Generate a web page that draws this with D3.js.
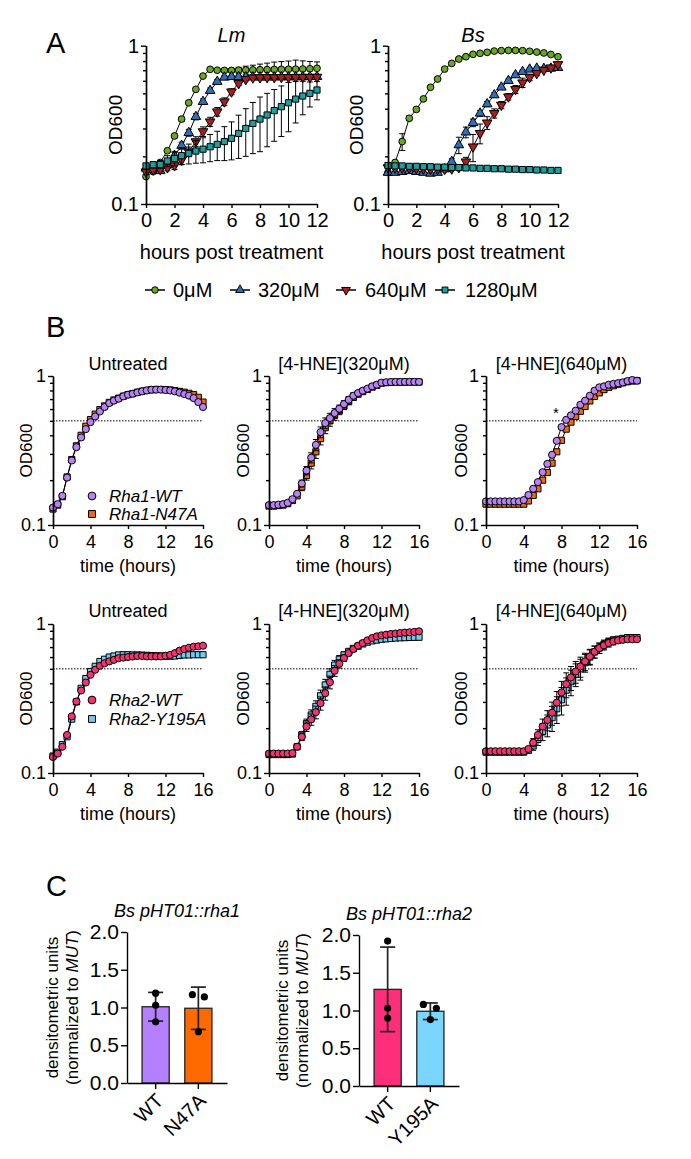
<!DOCTYPE html>
<html lang="en">
<head>
<meta charset="UTF-8">
<title>4-HNE growth curves</title>
<script src="https://d3js.org/d3.v7.min.js"></script>
<style>
  body { margin: 0; background: #fff; }
  svg text { font-family: "Liberation Sans", Arial, sans-serif; fill: #000; }
  .axis path, .axis line { stroke: #000; stroke-width: 1.4; }
</style>
</head>
<body>
<div id="chart"></div>
<script>
// ---------- panel A data (OD600, mean and SD) ----------
var hoursA = [0,0.5,1,1.5,2,2.5,3,3.5,4,4.5,5,5.5,6,6.5,7,7.5,8,8.5,9,9.5,10,10.5,11,11.5,12];
var doses = ["0μM", "320μM", "640μM", "1280μM"];

var lm0      = [0.149,0.160,0.183,0.217,0.269,0.344,0.436,0.530,0.643,0.709,0.700,0.698,0.698,0.700,0.702,0.703,0.705,0.706,0.708,0.709,0.710,0.711,0.712,0.715,0.720];
var lm0Err   = [0.004,0.004,0.005,0.006,0.008,0.010,0.012,0.014,0.014,0.012,0.012,0.015,0.020,0.030,0.040,0.050,0.060,0.070,0.080,0.085,0.090,0.100,0.090,0.080,0.070];
var lm320    = [0.168,0.164,0.162,0.176,0.202,0.234,0.282,0.356,0.443,0.520,0.593,0.631,0.637,0.636,0.634,0.633,0.632,0.632,0.633,0.634,0.634,0.635,0.635,0.636,0.637];
var lm320Err = [0.004,0.004,0.005,0.008,0.010,0.012,0.014,0.016,0.018,0.020,0.020,0.015,0.012,0.010,0.010,0.010,0.010,0.010,0.010,0.010,0.010,0.010,0.010,0.010,0.010];
var lm640    = [0.160,0.165,0.165,0.170,0.175,0.190,0.214,0.248,0.287,0.331,0.383,0.443,0.512,0.578,0.613,0.628,0.630,0.631,0.631,0.632,0.632,0.632,0.633,0.633,0.634];
var lm640Err = [0.004,0.004,0.005,0.008,0.010,0.012,0.015,0.018,0.020,0.022,0.024,0.025,0.022,0.018,0.014,0.012,0.010,0.010,0.010,0.010,0.010,0.010,0.010,0.010,0.010];
var lm1280   = [0.174,0.177,0.178,0.187,0.194,0.202,0.209,0.216,0.222,0.230,0.238,0.248,0.260,0.279,0.300,0.323,0.344,0.365,0.389,0.412,0.436,0.460,0.481,0.500,0.525];
var lm1280Err= [0.005,0.008,0.010,0.015,0.020,0.025,0.030,0.035,0.040,0.045,0.050,0.060,0.070,0.085,0.100,0.115,0.130,0.135,0.140,0.145,0.150,0.135,0.115,0.090,0.070];

var bs0      = [0.158,0.183,0.248,0.348,0.396,0.461,0.546,0.616,0.712,0.773,0.824,0.852,0.882,0.895,0.908,0.925,0.930,0.934,0.934,0.930,0.922,0.912,0.900,0.880,0.852];
var bs0Err   = [0.004,0.006,0.030,0.012,0.010,0.010,0.010,0.010,0.010,0.010,0.010,0.010,0.008,0.008,0.008,0.008,0.008,0.008,0.008,0.008,0.008,0.008,0.008,0.008,0.008];
var bs320    = [0.158,0.158,0.160,0.162,0.160,0.158,0.156,0.158,0.166,0.185,0.236,0.284,0.326,0.374,0.428,0.488,0.546,0.601,0.653,0.685,0.709,0.719,0.716,0.719,0.726];
var bs320Err = [0.003,0.003,0.003,0.004,0.004,0.004,0.004,0.004,0.005,0.008,0.028,0.022,0.018,0.016,0.016,0.016,0.016,0.016,0.016,0.016,0.015,0.015,0.015,0.015,0.015];
var bs640    = [0.170,0.169,0.169,0.169,0.168,0.167,0.166,0.166,0.166,0.167,0.170,0.185,0.230,0.280,0.326,0.374,0.422,0.476,0.530,0.584,0.631,0.669,0.702,0.726,0.762];
var bs640Err = [0.003,0.003,0.003,0.003,0.003,0.003,0.003,0.003,0.003,0.004,0.006,0.012,0.045,0.040,0.030,0.025,0.022,0.022,0.030,0.040,0.030,0.022,0.018,0.016,0.015];
var bs1280   = [0.175,0.174,0.174,0.173,0.173,0.172,0.172,0.171,0.171,0.170,0.170,0.169,0.169,0.168,0.168,0.167,0.167,0.166,0.166,0.165,0.165,0.164,0.164,0.163,0.163];

// ---------- panel B data ----------
var hoursB = [0,0.5,1,1.5,2,2.5,3,3.5,4,4.5,5,5.5,6,6.5,7,7.5,8,8.5,9,9.5,10,10.5,11,11.5,12,12.5,13,13.5,14,14.5,15,15.5,16];
var treatments = ["Untreated", "[4-HNE](320μM)", "[4-HNE](640μM)"];

var r1UntWT   = [0.131,0.138,0.157,0.208,0.271,0.333,0.387,0.440,0.490,0.535,0.578,0.619,0.658,0.683,0.704,0.730,0.749,0.760,0.776,0.789,0.800,0.809,0.810,0.810,0.805,0.800,0.789,0.773,0.757,0.738,0.711,0.668,0.619];
var r1UntMut  = [0.128,0.136,0.155,0.210,0.275,0.340,0.400,0.460,0.510,0.555,0.595,0.630,0.665,0.690,0.710,0.732,0.750,0.762,0.778,0.790,0.800,0.808,0.812,0.812,0.810,0.806,0.798,0.788,0.778,0.765,0.749,0.719,0.668];
var r1_320WT  = [0.136,0.136,0.137,0.138,0.141,0.149,0.162,0.190,0.232,0.283,0.345,0.420,0.483,0.522,0.564,0.603,0.648,0.693,0.737,0.769,0.797,0.822,0.852,0.874,0.902,0.908,0.911,0.912,0.912,0.913,0.913,0.913,0.913];
var r1_320Mut = [0.134,0.134,0.135,0.136,0.139,0.146,0.157,0.180,0.215,0.260,0.310,0.380,0.450,0.500,0.545,0.585,0.630,0.675,0.720,0.755,0.785,0.812,0.842,0.866,0.895,0.903,0.907,0.909,0.910,0.910,0.911,0.911,0.911];
var r1_320Err = [0.002,0.002,0.002,0.002,0.003,0.004,0.006,0.010,0.015,0.022,0.030,0.035,0.040,0.040,0.040,0.035,0.035,0.035,0.035,0.030,0.025,0.020,0.015,0.012,0.010,0.010,0.010,0.010,0.010,0.010,0.010,0.010,0.010];
var r1_640WT  = [0.144,0.144,0.144,0.144,0.144,0.144,0.144,0.144,0.147,0.159,0.175,0.194,0.226,0.257,0.296,0.367,0.454,0.508,0.544,0.585,0.641,0.683,0.737,0.797,0.839,0.852,0.874,0.885,0.895,0.906,0.925,0.940,0.930];
var r1_640Mut = [0.138,0.138,0.138,0.138,0.138,0.138,0.138,0.138,0.138,0.145,0.158,0.175,0.200,0.225,0.260,0.310,0.370,0.440,0.490,0.535,0.580,0.625,0.680,0.730,0.770,0.810,0.840,0.860,0.880,0.900,0.915,0.925,0.930];

var r2UntWT   = [0.128,0.135,0.150,0.180,0.240,0.302,0.358,0.405,0.456,0.493,0.524,0.545,0.561,0.575,0.590,0.595,0.600,0.605,0.610,0.610,0.606,0.606,0.606,0.606,0.612,0.620,0.638,0.662,0.679,0.693,0.704,0.708,0.715];
var r2UntMut  = [0.130,0.138,0.155,0.175,0.230,0.300,0.370,0.430,0.480,0.520,0.560,0.580,0.600,0.610,0.620,0.622,0.622,0.620,0.620,0.618,0.616,0.614,0.612,0.610,0.608,0.608,0.610,0.615,0.620,0.620,0.622,0.622,0.622];
var r2_320WT  = [0.135,0.135,0.135,0.135,0.135,0.136,0.150,0.175,0.205,0.229,0.256,0.294,0.343,0.407,0.485,0.541,0.591,0.638,0.679,0.715,0.745,0.776,0.805,0.826,0.839,0.848,0.857,0.862,0.870,0.875,0.880,0.885,0.893];
var r2_320Mut = [0.133,0.133,0.133,0.133,0.133,0.134,0.150,0.180,0.215,0.245,0.280,0.330,0.390,0.460,0.530,0.580,0.620,0.655,0.685,0.710,0.735,0.755,0.770,0.780,0.790,0.795,0.800,0.805,0.808,0.810,0.812,0.814,0.815];
var r2_320Err = [0.002,0.002,0.002,0.002,0.002,0.003,0.006,0.010,0.015,0.020,0.025,0.030,0.035,0.040,0.040,0.035,0.030,0.025,0.020,0.015,0.012,0.010,0.010,0.010,0.010,0.010,0.010,0.010,0.010,0.010,0.010,0.010,0.010];
var r2_640WT  = [0.140,0.140,0.140,0.140,0.140,0.140,0.140,0.140,0.140,0.145,0.160,0.180,0.205,0.227,0.254,0.297,0.347,0.395,0.438,0.480,0.519,0.561,0.606,0.651,0.689,0.719,0.745,0.764,0.776,0.783,0.790,0.790,0.790];
var r2_640Mut = [0.138,0.138,0.138,0.138,0.138,0.138,0.138,0.138,0.138,0.142,0.152,0.168,0.190,0.210,0.235,0.270,0.310,0.360,0.410,0.460,0.500,0.550,0.600,0.650,0.690,0.730,0.760,0.780,0.790,0.800,0.810,0.810,0.810];
var r2_640Err = [0.003,0.003,0.003,0.003,0.003,0.003,0.003,0.003,0.003,0.005,0.010,0.015,0.025,0.035,0.045,0.055,0.065,0.075,0.080,0.080,0.080,0.075,0.070,0.060,0.055,0.050,0.045,0.040,0.035,0.030,0.030,0.025,0.025];

// ---------- panel C data ----------
var rha1Groups = ["WT", "N47A"];
var rha1Means  = [1.01, 0.99];
var rha1SD     = [0.19, 0.28];
var rha1Points = [[1.19, 1.03, 0.81], [1.17, 1.14, 0.68]];
var rha2Groups = ["WT", "Y195A"];
var rha2Means  = [1.28, 0.99];
var rha2SD     = [0.56, 0.11];
var rha2Points = [[1.92, 1.03, 0.90], [1.08, 1.03, 0.88]];
var barTicks   = [0, 0.5, 1, 1.5, 2];

// ---------- drawing ----------
var svg = d3.select("#chart").append("svg")
    .attr("width", 691).attr("height", 1159);

var cGreen = "#6BA820", cBlue = "#2E6FB8", cRed = "#A81E1E", cTeal = "#1E9E9E";
var cPurple = "#B583F2", cOrange = "#F06A12", cPink = "#F2336E", cSky = "#72CBEE";
var minorLog = [0.2, 0.3, 0.4, 0.5, 0.6, 0.7, 0.8, 0.9];

function growthPlot(p) {
    var x = d3.scaleLinear().domain([0, p.xMax]).range([p.left, p.right]);
    var y = d3.scaleLog().domain([0.1, 1]).range([p.bottom, p.top]);
    var g = svg.append("g");

    if (p.dotted) {
        g.append("line")
            .attr("x1", p.left).attr("x2", p.right)
            .attr("y1", y(0.5)).attr("y2", y(0.5))
            .attr("stroke", "#000").attr("stroke-width", 1)
            .attr("stroke-dasharray", "1.5,1.5");
    }

    p.series.forEach(function(s) {
        var pts = s.values.map(function(v, i) {
            return {t: p.hours[i], v: v, e: s.err ? s.err[i] : 0};
        });
        g.append("path").datum(pts)
            .attr("fill", "none").attr("stroke", "#000").attr("stroke-width", 1)
            .attr("d", d3.line().x(function(d) { return x(d.t); }).y(function(d) { return y(d.v); }));
        var eb = g.append("g").attr("stroke", "#000").attr("stroke-width", 1);
        pts.filter(function(d) { return d.e > 0.006; }).forEach(function(d) {
            var cx = x(d.t), lo = y(Math.max(d.v - d.e, 0.101)), hi = y(d.v + d.e);
            eb.append("line").attr("x1", cx).attr("x2", cx).attr("y1", lo).attr("y2", hi);
            eb.append("line").attr("x1", cx - 3).attr("x2", cx + 3).attr("y1", lo).attr("y2", lo);
            eb.append("line").attr("x1", cx - 3).attr("x2", cx + 3).attr("y1", hi).attr("y2", hi);
        });
        g.append("g").selectAll("path").data(pts).enter().append("path")
            .attr("transform", function(d) {
                return "translate(" + x(d.t) + "," + y(d.v) + ")" + (s.flip ? " rotate(180)" : "");
            })
            .attr("d", d3.symbol().type(s.shape).size(s.size))
            .attr("fill", s.color).attr("stroke", "#000").attr("stroke-width", 1);
    });

    // axes
    g.append("g").attr("class", "axis")
        .attr("transform", "translate(" + p.left + ",0)")
        .call(d3.axisLeft(y).tickValues(minorLog).tickSize(3).tickSizeOuter(0).tickFormat(""));
    g.append("g").attr("class", "axis")
        .attr("transform", "translate(" + p.left + ",0)")
        .call(d3.axisLeft(y).tickValues([0.1, 1]).tickSize(5).tickSizeOuter(0).tickPadding(2)
            .tickFormat(d3.format("~g")))
        .attr("font-size", p.font);
    g.append("g").attr("class", "axis")
        .attr("transform", "translate(0," + p.bottom + ")")
        .call(d3.axisBottom(x).tickValues(p.xTicks).tickSize(4).tickSizeOuter(0).tickPadding(p.xPad))
        .attr("font-size", p.font);

    g.append("text")
        .attr("transform", "translate(" + p.yLabelX + "," + ((p.top + p.bottom) / 2) + ") rotate(-90)")
        .attr("text-anchor", "middle").attr("dy", "0.35em")
        .attr("font-size", p.yLabelSize).text("OD600");
    g.append("text")
        .attr("x", (p.left + p.right) / 2).attr("y", p.xTitleY)
        .attr("text-anchor", "middle").attr("font-size", p.font).text(p.xTitle);
    g.append("text")
        .attr("x", (p.left + p.right) / 2).attr("y", p.titleY)
        .attr("text-anchor", "middle").attr("font-size", p.font)
        .attr("font-style", p.italicTitle ? "italic" : "normal").text(p.title);
    return {x: x, y: y, g: g};
}

// panel A
function seriesA(v0, e0, v1, e1, v2, e2, v3, e3) {
    return [
        {values: v0, err: e0, color: cGreen, shape: d3.symbolCircle, size: 36},
        {values: v1, err: e1, color: cBlue, shape: d3.symbolTriangle, size: 40},
        {values: v2, err: e2, color: cRed, shape: d3.symbolTriangle, size: 40, flip: true},
        {values: v3, err: e3, color: cTeal, shape: d3.symbolSquare, size: 38}
    ];
}
var baseA = {xMax: 12, xTicks: [0, 2, 4, 6, 8, 10, 12], hours: hoursA, top: 45.7, bottom: 204,
    font: 20, xPad: 5, yLabelSize: 19, xTitle: "hours post treatment", xTitleY: 259, titleY: 42, italicTitle: true};
growthPlot(Object.assign({}, baseA, {left: 146, right: 317, yLabelX: 115, title: "Lm",
    series: seriesA(lm0, lm0Err, lm320, lm320Err, lm640, lm640Err, lm1280, lm1280Err)}));
growthPlot(Object.assign({}, baseA, {left: 388, right: 558, yLabelX: 356, title: "Bs",
    series: seriesA(bs0, bs0Err, bs320, bs320Err, bs640, bs640Err, bs1280, null)}));

// legend A
var legA = [
    {x: 155, tx: 173, color: cGreen, shape: d3.symbolCircle, flip: false},
    {x: 240, tx: 258, color: cBlue, shape: d3.symbolTriangle, flip: false},
    {x: 346, tx: 365, color: cRed, shape: d3.symbolTriangle, flip: true},
    {x: 445, tx: 465, color: cTeal, shape: d3.symbolSquare, flip: false}
];
legA.forEach(function(l, i) {
    svg.append("line").attr("x1", l.x - 10).attr("x2", l.x + 10).attr("y1", 290).attr("y2", 290)
        .attr("stroke", "#000").attr("stroke-width", 1.5);
    svg.append("path")
        .attr("transform", "translate(" + l.x + ",290)" + (l.flip ? " rotate(180)" : ""))
        .attr("d", d3.symbol().type(l.shape).size(34))
        .attr("fill", l.color).attr("stroke", "#000").attr("stroke-width", 1);
    svg.append("text").attr("x", l.tx).attr("y", 290).attr("dy", "0.35em")
        .attr("font-size", 20).text(doses[i]);
});

// panel B
var colsB = [{left: 53, right: 203, yl: 26}, {left: 269, right: 419, yl: 243}, {left: 486, right: 637, yl: 461}];
var rowsB = [{top: 376, bottom: 525, titleY: 370, xTitleY: 572},
             {top: 624, bottom: 773, titleY: 617, xTitleY: 820}];
var dataB = [
    [[r1UntMut, null, r1UntWT, null], [r1_320Mut, r1_320Err, r1_320WT, r1_320Err], [r1_640Mut, null, r1_640WT, null]],
    [[r2UntMut, null, r2UntWT, null], [r2_320Mut, r2_320Err, r2_320WT, r2_320Err], [r2_640Mut, r2_640Err, r2_640WT, r2_640Err]]
];
var rowColors = [[cOrange, cPurple], [cSky, cPink]];
var plotsB = [];
rowsB.forEach(function(r, ri) {
    colsB.forEach(function(c, ci) {
        var d = dataB[ri][ci];
        plotsB.push(growthPlot({xMax: 16, xTicks: [0, 4, 8, 12, 16], hours: hoursB,
            left: c.left, right: c.right, top: r.top, bottom: r.bottom,
            font: 18, xPad: 6, yLabelSize: 17, yLabelX: c.yl, dotted: true,
            xTitle: "time (hours)", xTitleY: r.xTitleY, titleY: r.titleY, title: treatments[ci],
            series: [
                {values: d[0], err: d[1], color: rowColors[ri][0], shape: d3.symbolSquare, size: 38},
                {values: d[2], err: d[3], color: rowColors[ri][1], shape: d3.symbolCircle, size: 40}
            ]}));
    });
});

// asterisk, 640 µM Rha1
svg.append("text").attr("x", plotsB[2].x(7.4)).attr("y", plotsB[2].y(0.5) - 3)
    .attr("text-anchor", "middle").attr("font-size", 15).text("*");

// panel B legends
var legB = [
    {y: [496, 514], labels: ["Rha1-WT", "Rha1-N47A"], colors: [cPurple, cOrange]},
    {y: [700, 719], labels: ["Rha2-WT", "Rha2-Y195A"], colors: [cPink, cSky]}
];
legB.forEach(function(l) {
    [d3.symbolCircle, d3.symbolSquare].forEach(function(shape, i) {
        svg.append("path").attr("transform", "translate(92," + l.y[i] + ")")
            .attr("d", d3.symbol().type(shape).size(48))
            .attr("fill", l.colors[i]).attr("stroke", "#000").attr("stroke-width", 1);
        svg.append("text").attr("x", 109).attr("y", l.y[i]).attr("dy", "0.35em")
            .attr("font-size", 17).attr("font-style", "italic").text(l.labels[i]);
    });
});

// panel C
function barPlot(p) {
    var x = d3.scaleBand().domain(p.groups).range([p.left, p.right])
        .paddingInner(0.365).paddingOuter(0.353);
    var y = d3.scaleLinear().domain([0, 2]).range([p.bottom, p.top]);
    var g = svg.append("g");

    g.selectAll("rect").data(p.means).enter().append("rect")
        .attr("x", function(d, i) { return x(p.groups[i]); })
        .attr("width", x.bandwidth())
        .attr("y", function(d) { return y(d); })
        .attr("height", function(d) { return p.bottom - y(d); })
        .attr("fill", function(d, i) { return p.colors[i]; })
        .attr("stroke", "#222").attr("stroke-width", 1.3);

    p.means.forEach(function(m, i) {
        var cx = x(p.groups[i]) + x.bandwidth() / 2;
        var lo = y(m - p.sd[i]), hi = y(m + p.sd[i]);
        var eb = g.append("g").attr("stroke", "#222").attr("stroke-width", 1.7);
        eb.append("line").attr("x1", cx).attr("x2", cx).attr("y1", lo).attr("y2", hi);
        eb.append("line").attr("x1", cx - 7.5).attr("x2", cx + 7.5).attr("y1", lo).attr("y2", lo);
        eb.append("line").attr("x1", cx - 7.5).attr("x2", cx + 7.5).attr("y1", hi).attr("y2", hi);
        p.points[i].forEach(function(v, j) {
            g.append("circle").attr("cx", cx + p.jitter[i][j]).attr("cy", y(v))
                .attr("r", 3.6).attr("fill", "#000");
        });
    });

    g.append("g").attr("class", "axis")
        .attr("transform", "translate(" + p.left + ",0)")
        .call(d3.axisLeft(y).tickValues(barTicks).tickSize(6).tickSizeOuter(0).tickPadding(2)
            .tickFormat(d3.format(".1f")))
        .attr("font-size", 21);
    g.append("g").attr("class", "axis")
        .attr("transform", "translate(0," + p.bottom + ")")
        .call(d3.axisBottom(x).tickSize(6).tickSizeOuter(0).tickFormat(""));

    p.groups.forEach(function(name, i) {
        var cx = x(name) + x.bandwidth() / 2;
        g.append("text")
            .attr("transform", "translate(" + (cx + 4) + "," + (p.bottom + 14) + ") rotate(-45)")
            .attr("text-anchor", "end").attr("dy", "0.35em")
            .attr("font-size", 20).text(name);
    });

    g.append("text").attr("x", (p.left + p.right) / 2).attr("y", p.top - 15)
        .attr("text-anchor", "middle").attr("font-size", 18).attr("font-style", "italic")
        .text(p.title);

    var yl = g.append("g")
        .attr("transform", "translate(" + p.yLabelX + "," + ((p.top + p.bottom) / 2) + ") rotate(-90)");
    yl.append("text").attr("text-anchor", "middle").attr("dy", "0.35em")
        .attr("font-size", 17).text("densitometric units");
    var t2 = yl.append("text").attr("text-anchor", "middle").attr("y", 20).attr("dy", "0.35em")
        .attr("font-size", 17);
    t2.append("tspan").text("(normalized to ");
    t2.append("tspan").attr("font-style", "italic").text("MUT");
    t2.append("tspan").text(")");
}

barPlot({groups: rha1Groups, means: rha1Means, sd: rha1SD, points: rha1Points,
    jitter: [[0, 0, 0], [-6, 6, 0]], colors: ["#B580FF", "#FF6A00"],
    left: 127, right: 227, top: 932, bottom: 1083, yLabelX: 52, title: "Bs pHT01::rha1"});
barPlot({groups: rha2Groups, means: rha2Means, sd: rha2SD, points: rha2Points,
    jitter: [[0, 0, 0], [-7, 6, 0]], colors: ["#FF2E7A", "#7AD6FF"],
    left: 359, right: 459, top: 935, bottom: 1086, yLabelX: 282, title: "Bs pHT01::rha2"});

// panel letters
[["A", 46, 53], ["B", 46, 337], ["C", 46, 896]].forEach(function(l) {
    svg.append("text").attr("x", l[1]).attr("y", l[2]).attr("font-size", 29).text(l[0]);
});
</script>
</body>
</html>
